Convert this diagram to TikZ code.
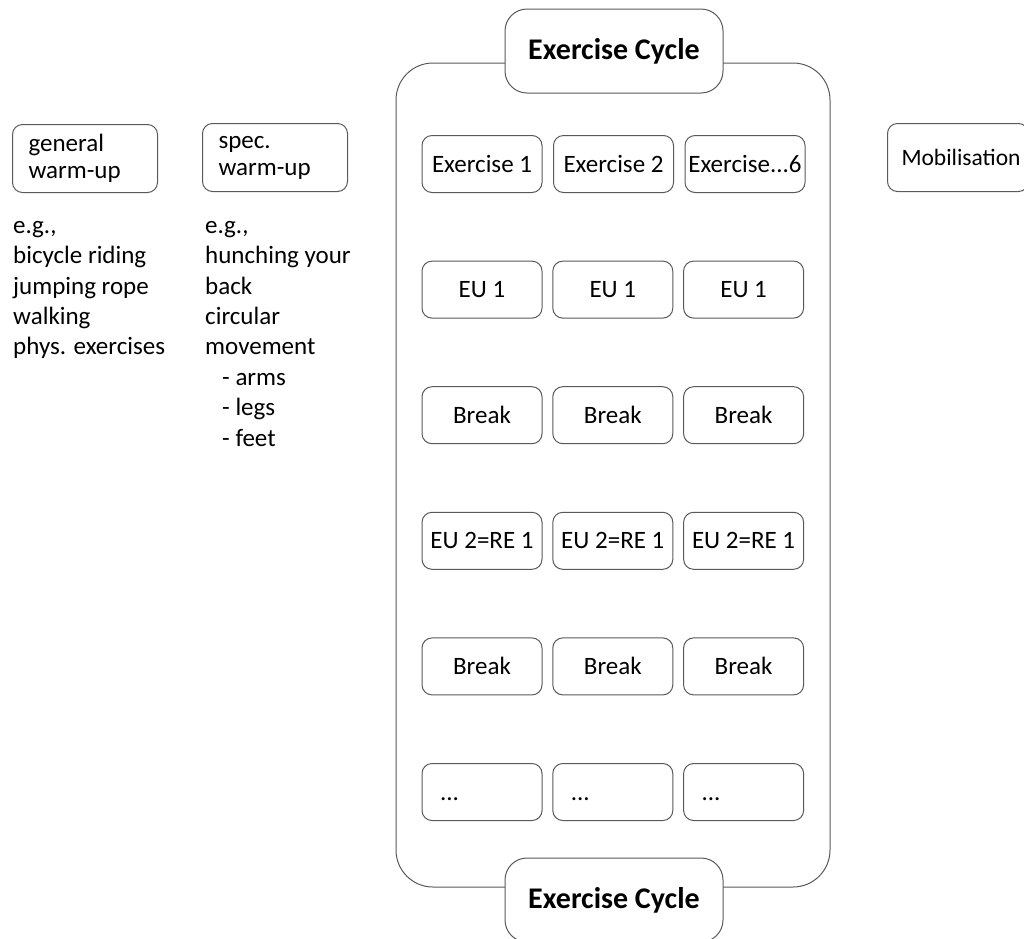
\documentclass[tikz,border=0pt]{standalone}
\usepackage{fontspec}
\setmainfont{Carlito}
\usetikzlibrary{positioning}

\tikzset{
	box/.style={draw=black!65, line width=1pt, rounded corners=10pt},
	cell/.style={box, minimum width=120pt, minimum height=57pt, inner sep=0pt,
		text height=16pt, text depth=0pt, font=\fontsize{25}{30}\selectfont},
	warmbox/.style={box, text width=113pt, inner xsep=16pt, inner ysep=0pt,
		minimum height=68pt, align=left, anchor=north west,
		font=\fontsize{25}{27}\selectfont},
	cyclebox/.style={box, fill=white, rounded corners=22pt, minimum width=218pt,
		minimum height=84pt, font=\fontsize{30}{36}\selectfont\bfseries},
	notes/.style={align=left, anchor=north west, inner sep=0pt,
		font=\fontsize{25}{30.4}\selectfont}
}

\begin{document}
\begin{tikzpicture}[x=1pt, y=-1pt]
		
		\useasboundingbox (0,0) rectangle (1024,938);
		\clip (0,0) rectangle (1024,938);
		
		% warm-up boxes
		\node[warmbox] (general) at (12,124) {general\\warm-up};
		\node[warmbox] (spec) at (202,123) {spec.\\warm-up};
		\node[warmbox, inner xsep=14pt, font=\fontsize{23.5}{27}\selectfont] (mobil) at (887,123) {Mobilisation};
		
		% examples
		\node[notes] (generalex) at (13,221) {e.g.,\\bicycle riding\\jumping rope\\walking\\phys. exercises};
		\node[notes] (specex) at (205,221) {e.g.,\\hunching your\\back\\circular\\movement\\
			\hspace*{17pt}- arms\\\hspace*{17pt}- legs\\\hspace*{17pt}- feet};
		
		% cycle frame
		\draw[draw=black!65, line width=1pt, rounded corners=37pt] (396,63) rectangle (830,887);
		\node[cyclebox] (cycletop) at (614,51) {Exercise Cycle};
		\node[cyclebox] (cyclebot) at (614,900) {Exercise Cycle};
		
		% exercises
		\node[cell] (ex1) at (482,164) {Exercise 1};
		\node[cell, right=10.5pt of ex1] (ex2) {Exercise 2};
		\node[cell, right=10.5pt of ex2] (ex6) {Exercise...6};
		
		% units and breaks
		\foreach \txt [count=\r from 2] in {EU 1, Break, EU 2=RE 1, Break} {
			\foreach \c in {1,2,3} {
				\node[cell] (cell-\r-\c) at ({482+130.8*(\c-1)},{164+125.6*(\r-1)}) {\txt};
			}
		}
		
		% open end
		\foreach \c in {1,2,3} {
			\node[cell, text width=84pt, inner xsep=18pt, align=left]
			(more-\c) at ({482+130.8*(\c-1)},792) {...};
		}
		
	\end{tikzpicture}
\end{document}
